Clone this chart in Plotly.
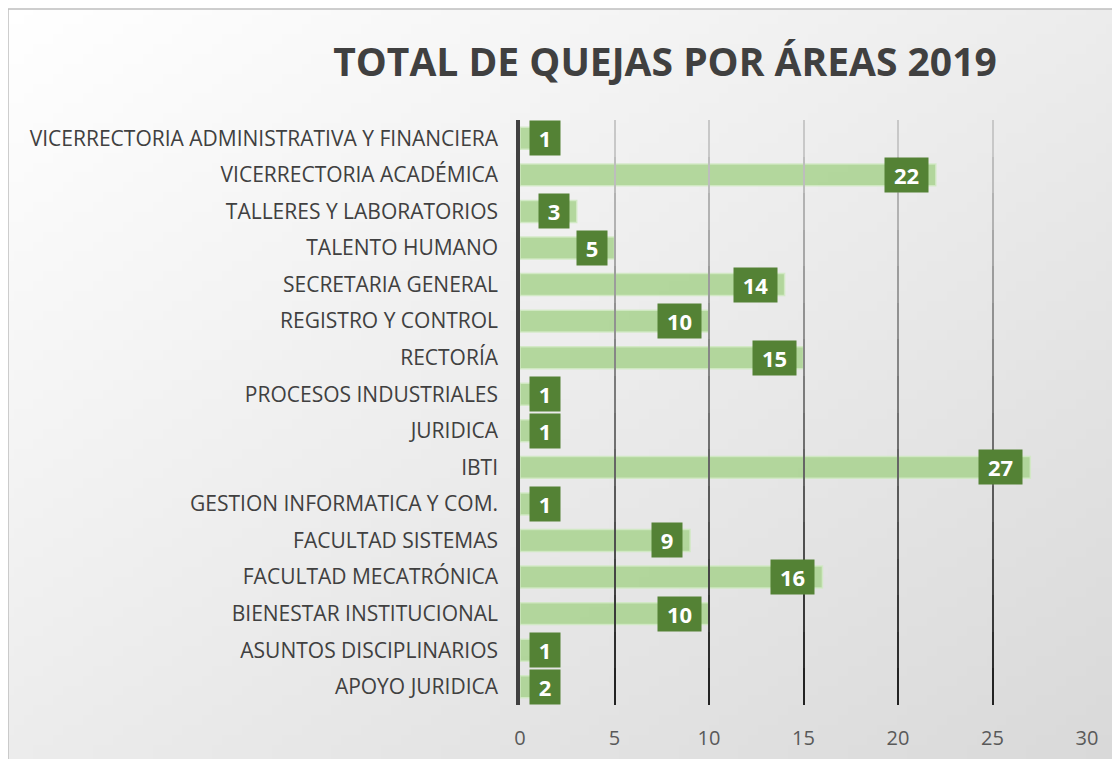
import zlib, struct, base64
import plotly.graph_objects as go

# ---------------- data ----------------
categories = [
    "APOYO JURIDICA",
    "ASUNTOS DISCIPLINARIOS",
    "BIENESTAR INSTITUCIONAL",
    "FACULTAD MECATRÓNICA",
    "FACULTAD SISTEMAS",
    "GESTION INFORMATICA Y COM.",
    "IBTI",
    "JURIDICA",
    "PROCESOS INDUSTRIALES",
    "RECTORÍA",
    "REGISTRO Y CONTROL",
    "SECRETARIA GENERAL",
    "TALENTO HUMANO",
    "TALLERES Y LABORATORIOS",
    "VICERRECTORIA ACADÉMICA",
    "VICERRECTORIA ADMINISTRATIVA Y FINANCIERA",
]
values = [2, 1, 10, 16, 9, 1, 27, 1, 1, 15, 10, 14, 5, 3, 22, 1]
x_ticks = [0, 5, 10, 15, 20, 25, 30]
title_text = "TOTAL DE QUEJAS POR ÁREAS 2019"

# ---------------- geometry (page has an 8px body margin) ----------------
OFF = 8
W, H = 1120 - OFF, 759 - OFF
L, R, T, B = 520 - OFF, 33, 120 - OFF, 54
PW, PH = W - L - R, H - T - B
XMAX = 30
ppu = PW / XMAX


def px2x(px):
    return (px - L) / PW


def py2y(py):
    return 1 - (py - T) / PH


# ---------------- gradient background (PNG built in memory) ----------------
def make_png(w, h):
    rows = []
    for j in range(h):
        row = bytearray([0])
        for i in range(w):
            t = 0.5 * i / (w - 1) + 0.5 * j / (h - 1)
            c = int(round(255 - 38 * t))
            row += bytes([c, c, c])
        rows.append(bytes(row))
    raw = b"".join(rows)

    def chunk(tag, data):
        c = struct.pack(">I", len(data)) + tag + data
        return c + struct.pack(">I", zlib.crc32(tag + data) & 0xFFFFFFFF)

    png = b"\x89PNG\r\n\x1a\n"
    png += chunk(b"IHDR", struct.pack(">IIBBBBB", w, h, 8, 2, 0, 0, 0))
    png += chunk(b"IDAT", zlib.compress(raw, 9))
    png += chunk(b"IEND", b"")
    return "data:image/png;base64," + base64.b64encode(png).decode()


bg = make_png(112, 76)

fig = go.Figure()

# ---------------- gradient gridlines via stacked x-axes ----------------
N = 16
dark = (35, 35, 35)
light = (200, 200, 200)
for k in range(N):
    idx = k + 2
    f = k / (N - 1)
    col = tuple(int(round(dark[c] + (light[c] - dark[c]) * f)) for c in range(3))
    fig.add_trace(go.Scatter(x=[None], y=[None], xaxis=f"x{idx}", yaxis=f"y{idx}",
                             showlegend=False, hoverinfo="skip"))
    fig.layout[f"xaxis{idx}"] = dict(
        range=[0, XMAX], anchor=f"y{idx}", tickmode="array", tickvals=x_ticks[1:],
        showgrid=True, gridcolor="rgb(%d,%d,%d)" % col, gridwidth=1.6,
        showticklabels=False, zeroline=False, showline=False, ticks="",
        fixedrange=True,
    )
    fig.layout[f"yaxis{idx}"] = dict(
        domain=[k / N, (k + 1) / N], anchor=f"x{idx}", range=[0, 1],
        visible=False, fixedrange=True,
    )

# ---------------- bars ----------------
fig.add_trace(go.Bar(
    x=values, y=categories, orientation="h", width=0.6,
    marker=dict(color="rgba(168,210,142,0.85)",
                line=dict(color="rgba(210,233,196,0.9)", width=1.5)),
    hoverinfo="x+y", showlegend=False,
))

# ---------------- value labels ----------------
for cat, v in zip(categories, values):
    txt = str(v)
    bw = 30 if len(txt) == 1 else 43
    if v * ppu - 7 - bw < 9:
        ax = dict(x=0, xanchor="left", xshift=9)
    else:
        ax = dict(x=v, xanchor="right", xshift=-7)
    fig.add_annotation(
        text=txt, y=cat, xref="x", yref="y", showarrow=False,
        yanchor="middle", bgcolor="#548235", width=bw, height=34,
        borderpad=0, align="center", valign="middle",
        font=dict(family="Open Sans", size=22, color="white", weight="bold"),
        **ax,
    )

# ---------------- layout ----------------
fig.update_layout(
    width=W, height=H,
    margin=dict(l=L, r=R, t=T, b=B, autoexpand=False),
    paper_bgcolor="white",
    plot_bgcolor="rgba(0,0,0,0)",
    bargap=0.4,
    title=dict(text=title_text, x=(665 - OFF) / W, xref="container", xanchor="center",
               y=1 - (62 - OFF) / H, yref="container", yanchor="middle",
               font=dict(family="Open Sans", size=39, color="#404040", weight="bold")),
    xaxis=dict(range=[0, XMAX], tickmode="array", tickvals=x_ticks,
               showgrid=False, zeroline=False, showline=False, ticks="",
               ticklabelstandoff=19,
               tickfont=dict(family="Open Sans", size=20, color="#595959"),
               fixedrange=True),
    yaxis=dict(categoryorder="array", categoryarray=categories,
               range=[-0.5, len(categories) - 0.5],
               showgrid=False, zeroline=False,
               showline=True, linecolor="#404040", linewidth=3.5,
               ticks="", ticklabelstandoff=14,
               tickfont=dict(family="Open Sans", size=21, color="#404040"),
               fixedrange=True),
    images=[dict(source=bg, xref="paper", yref="paper",
                 x=px2x(0), y=py2y(1), sizex=px2x(W) - px2x(0),
                 sizey=py2y(1) - py2y(H), xanchor="left", yanchor="top",
                 sizing="stretch", layer="below")],
    shapes=[dict(type="rect", xref="paper", yref="paper",
                 x0=px2x(0), y0=py2y(H + 5), x1=px2x(W + 5), y1=py2y(1),
                 line=dict(color="#bfbfbf", width=1.5), fillcolor="rgba(0,0,0,0)",
                 layer="above")],
)

fig.write_html("out.html")
